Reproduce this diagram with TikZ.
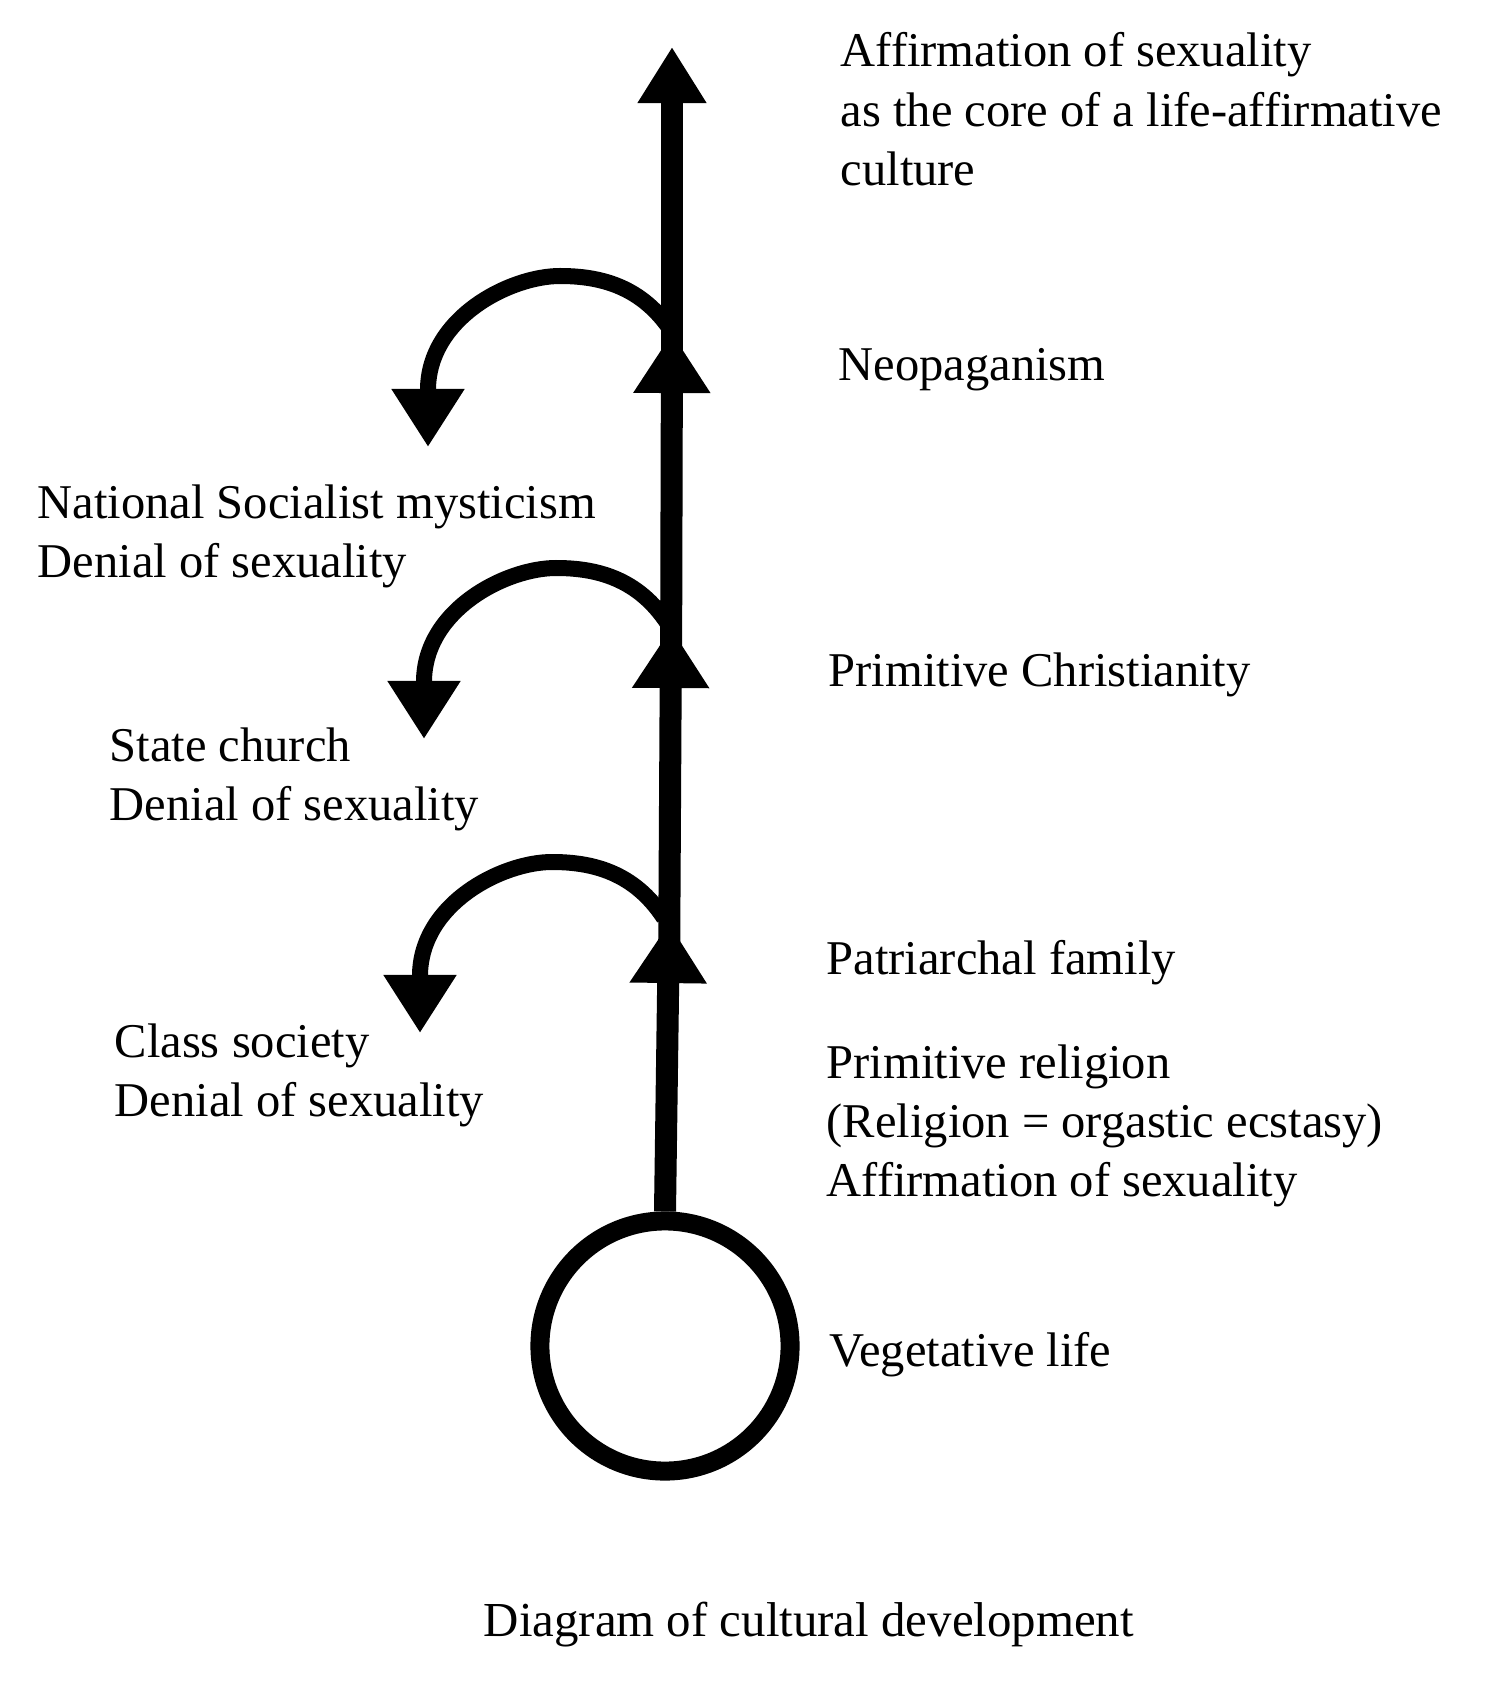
\documentclass[tikz,border=0pt]{standalone}
\usepackage{fontspec}
\setmainfont{Liberation Serif}
\usetikzlibrary{arrows.meta}
\tikzset{
  shaft/.style={line width=0.22cm, line cap=butt},
  curv/.style={line width=0.16cm, line cap=butt},
  tipmid/.style={-{Triangle[length=0.6cm,width=0.73cm]}},
  tiptop/.style={-{Triangle[length=0.56cm,width=0.65cm]}},
  tipcurve/.style={-{Triangle[length=0.58cm,width=0.69cm]}},
  lbl/.style={anchor=base west, inner sep=0pt, font=\fontsize{13.8pt}{16.8pt}\selectfont},
  captext/.style={anchor=base west, inner sep=0pt, font=\fontsize{13.9pt}{16.8pt}\selectfont}
}
\newcommand{\mlines}[1]{\vtop{#1}}
\begin{document}
\begin{tikzpicture}[x=0.01cm, y=-0.01cm]
\useasboundingbox (0,0) rectangle (1498,1694);

% vegetative life circle
\node[circle, draw, line width=0.19cm, minimum size=2.5cm, inner sep=0pt] (veg) at (665,1346) {};

% shaft coordinates (apex a, base b of the on-shaft triangles)
\coordinate (a1) at (669,923);
\coordinate (b1) at (669,983);
\coordinate (a2) at (671,628);
\coordinate (b2) at (671,688);
\coordinate (a3) at (672,333);
\coordinate (b3) at (672,393);
\coordinate (top) at (672,47);

\draw[shaft, tipmid] (veg.north) -- (a1);
\draw[shaft, tipmid] (b1) -- (a2);
\draw[shaft, tipmid] (b2) -- (a3);
\draw[shaft, tiptop] (b3) -- (top);

% curved arrows
\coordinate (j1) at (664,918);
\coordinate (e1) at (420,1033);
\coordinate (j2) at (668,624);
\coordinate (e2) at (424,739);
\coordinate (j3) at (672,332);
\coordinate (e3) at (428,447);

\foreach \k in {1,2,3}{
  \draw[curv, tipcurve] (j\k) .. controls +(-30,-46) and +(40,0) .. ++(-112,-56)
        .. controls +(-50,0) and +(0,-72) .. ++(-132,114) -- (e\k);
}

% labels
\node[lbl] (tAff) at (840,67) {\mlines{\hbox{Affirmation of sexuality}\hbox{as the core of a life-affirmative}\hbox{culture}}};
\node[lbl] (tNeo) at (838,380) {Neopaganism};
\node[lbl] (tNat) at (37,518) {\mlines{\hbox{National Socialist mysticism}\hbox{Denial of sexuality}}};
\node[lbl] (tChr) at (828,686) {Primitive Christianity};
\node[lbl] (tSta) at (109,761) {\mlines{\hbox{State church}\hbox{Denial of sexuality}}};
\node[lbl] (tPat) at (826,974) {Patriarchal family};
\node[lbl] (tCla) at (114,1057) {\mlines{\hbox{Class society}\hbox{Denial of sexuality}}};
\node[lbl] (tPri) at (826,1078) {\mlines{\hbox{Primitive religion}\hbox{(Religion = orgastic ecstasy)}\hbox{Affirmation of sexuality}}};
\node[lbl] (tVeg) at (829,1366) {Vegetative life};
\node[captext] (tCap) at (483,1636) {Diagram of cultural development};
\end{tikzpicture}
\end{document}
